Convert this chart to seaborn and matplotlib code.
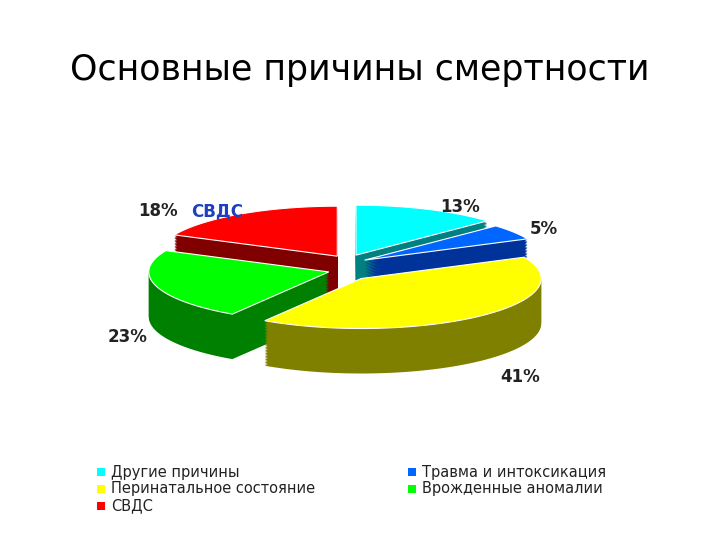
import numpy as np
import matplotlib.pyplot as plt
import seaborn as sns
from matplotlib.patches import Polygon

sns.set_theme(style="white")
plt.rcParams['font.family'] = ['DejaVu Sans']

labels = ["Другие причины", "Травма и интоксикация", "Перинатальное состояние",
          "Врожденные аномалии", "СВДС"]
shares = [13, 5, 41, 23, 18]
tops = ["#00FFFF", "#0066FF", "#FFFF00", "#00FF00", "#FF0000"]
sides = ["#008080", "#003399", "#808000", "#008000", "#800000"]

fig = plt.figure(figsize=(7.2, 5.4), dpi=100)
ax = fig.add_axes([0, 0, 1, 1])
ax.set_xlim(0, 720)
ax.set_ylim(540, 0)
ax.axis("off")

cx, cy, rx, ry, depth, expl = 348, 268, 180, 50, 45, 20

fr = np.array(shares) / sum(shares)
starts = 90 - 360 * np.concatenate([[0], np.cumsum(fr)[:-1]])
ends = starts - 360 * fr


def wedge(a1, a2, dy):
    m = np.radians((a1 + a2) / 2)
    ox, oy = expl * np.cos(m), -expl * np.sin(m) * 0.7
    t = np.radians(np.linspace(a1, a2, 80))
    xs = np.concatenate([[cx + ox], cx + ox + rx * np.cos(t)])
    ys = np.concatenate([[cy + oy], cy + oy - ry * np.sin(t)]) + dy
    return np.column_stack([xs, ys])


order = sorted(range(len(shares)),
               key=lambda i: -np.sin(np.radians((starts[i] + ends[i]) / 2)))
for i in order:
    for dy in np.linspace(depth, 1, 30):
        ax.add_patch(Polygon(wedge(starts[i], ends[i], dy), closed=True,
                             fc=sides[i], ec="none"))
    ax.add_patch(Polygon(wedge(starts[i], ends[i], 0), closed=True,
                         fc=tops[i], ec="white", lw=0.8))

kw = dict(fontsize=12, fontweight="bold", color="#222222")
ax.text(440, 212, f"{shares[0]}%", **kw)
ax.text(530, 234, f"{shares[1]}%", **kw)
ax.text(500, 382, f"{shares[2]}%", **kw)
ax.text(108, 342, f"{shares[3]}%", **kw)
ax.text(138, 216, f"{shares[4]}%", **kw)
ax.text(191, 216, labels[4], fontsize=12, fontweight="bold", color="#1F3FBF")

ax.text(360, 70, "Основные причины смертности", fontsize=25, ha="center",
        va="center", color="black")

pos = [(97, 472), (408, 472), (97, 489), (408, 489), (97, 506)]
for (x, y), i in zip(pos, range(len(labels))):
    ax.add_patch(plt.Rectangle((x, y - 4), 8, 8, fc=tops[i], ec="none"))
    ax.text(x + 14, y, labels[i], fontsize=10.5, va="center", color="#222222")

fig.savefig("out.png", dpi=100)
